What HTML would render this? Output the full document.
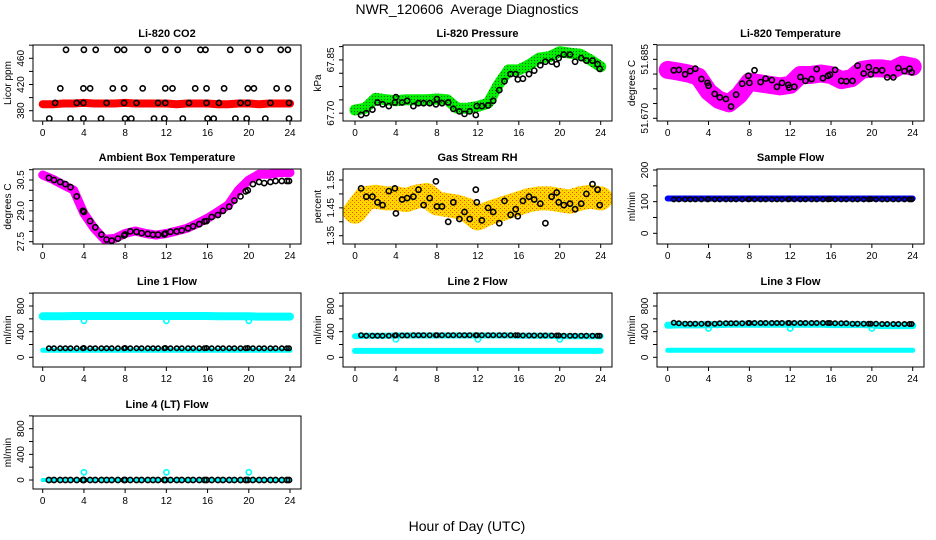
<!DOCTYPE html>
<html><head><meta charset="utf-8"><style>
body{margin:0;background:#fff;}
svg{display:block;font-family:"Liberation Sans",Arial,sans-serif;}
</style></head><body>
<svg id="chart" width="936" height="540" viewBox="0 0 936 540" xmlns="http://www.w3.org/2000/svg">
<defs>
<pattern id="rhpat" width="4" height="4" patternUnits="userSpaceOnUse"><rect width="4" height="4" fill="#ffd700"/><rect width="1" height="1" fill="#ff4000"/><rect x="2" y="2" width="1" height="1" fill="#ff6a00"/></pattern>
<pattern id="prpat" width="3" height="3" patternUnits="userSpaceOnUse"><rect width="3" height="3" fill="#00ee00"/><rect width="1" height="1" fill="#006000"/></pattern>
</defs>
<text x="467" y="14" font-size="14" text-anchor="middle">NWR_120606&#160; Average Diagnostics</text>
<text x="467" y="531" font-size="14" text-anchor="middle">Hour of Day (UTC)</text>
</svg>
<script>
// ---------- data ----------
const xTicks = [0,4,8,12,16,20,24];
const hours = [0,1,2,3,4,5,6,7,8,9,10,11,12,13,14,15,16,17,18,19,20,21,22,23,24];
const blackT = [0.6,1.1,1.7,2.2,2.7,3.3,3.9,4.0,4.6,5.1,5.7,6.2,6.7,7.3,7.9,8.0,8.5,9.1,9.6,10.2,10.7,11.2,11.8,11.9,12.4,13.0,13.5,14.1,14.6,15.2,15.7,15.9,16.4,17.0,17.5,18.1,18.6,19.2,19.7,19.9,20.4,21.0,21.5,22.1,22.6,23.2,23.7,23.9];

const co2Band = [390,390,391,391,392,391,391,391,392,391,391,391,391,390,391,391,391,390,390,391,391,390,391,391,391];
const co2T = [2.26,4.0,5.14,7.25,7.9,10.2,11.9,13.1,15.3,15.8,18.2,19.9,21.1,23.1,23.8,
 1.71,3.95,4.6,6.8,7.9,9.7,11.9,12.6,14.8,15.9,17.6,19.9,20.5,22.7,23.8,
 0.64,2.7,3.95,5.66,8.0,8.6,10.8,11.8,13.6,16.0,16.6,18.7,19.8,21.6,23.9,
 1.2,3.3,3.95,6.2,7.9,9.1,11.2,11.9,14.2,15.9,17.1,19.2,19.9,22.1,23.9];
const co2V = [473,473,473,473,473,473,473,473,473,473,473,473,473,473,473,
 414,414,414,414,414,414,414,414,414,414,414,414,414,414,414,
 368,368,368,368,368,368,368,368,368,368,368,368,368,368,368,
 392,392,392,392,392,392,392,392,392,392,392,392,392,392,392];

const presBand = [67.709,67.714,67.742,67.738,67.735,67.738,67.738,67.738,67.740,67.738,67.714,67.714,67.719,67.728,67.780,67.822,67.822,67.836,67.855,67.859,67.873,67.869,67.866,67.850,67.831];
const presBlack = [67.695,67.700,67.710,67.730,67.725,67.720,67.730,67.745,67.730,67.735,67.720,67.728,67.728,67.728,67.725,67.740,67.728,67.730,67.712,67.705,67.698,67.705,67.695,67.720,67.720,67.722,67.735,67.765,67.790,67.810,67.810,67.795,67.797,67.810,67.820,67.835,67.845,67.845,67.838,67.855,67.865,67.865,67.845,67.855,67.848,67.848,67.838,67.825];

const tempBand = [51.6823,51.6819,51.6814,51.6806,51.6768,51.6747,51.6738,51.6759,51.6793,51.6789,51.6785,51.6781,51.6785,51.6810,51.6810,51.6814,51.6810,51.6797,51.6802,51.6823,51.6827,51.6827,51.6823,51.6836,51.6831];
const tempBlack = [51.6822,51.6823,51.6812,51.6820,51.6826,51.6800,51.6790,51.6783,51.6762,51.6753,51.6749,51.6730,51.6760,51.6788,51.6808,51.6790,51.6822,51.6792,51.6801,51.6797,51.6780,51.6790,51.6785,51.6778,51.6780,51.6805,51.6795,51.6800,51.6825,51.6802,51.6808,51.6811,51.6823,51.6795,51.6794,51.6795,51.6834,51.6814,51.6830,51.6812,51.6822,51.6822,51.6804,51.6804,51.6828,51.6820,51.6826,51.6817];

const ambBand = [30.74,30.53,30.26,30.01,28.88,28.15,27.61,27.66,27.90,28.02,27.90,27.82,27.90,28.02,28.15,28.39,28.64,28.96,29.28,30.01,30.50,30.78,30.78,30.86,30.86];
const ambBlack = [30.6,30.5,30.4,30.3,30.15,29.7,29.0,28.95,28.5,28.2,27.85,27.6,27.55,27.65,27.8,27.85,28.0,27.98,27.92,27.88,27.84,27.84,27.86,27.9,27.98,28.0,28.05,28.15,28.25,28.35,28.48,28.5,28.7,28.8,29.0,29.2,29.5,29.7,29.95,30.0,30.3,30.4,30.35,30.4,30.45,30.45,30.45,30.45];

const rhBand = [1.436,1.484,1.490,1.484,1.484,1.478,1.490,1.496,1.466,1.460,1.454,1.442,1.412,1.430,1.442,1.454,1.466,1.478,1.484,1.484,1.478,1.472,1.484,1.490,1.484];
const rhBlack = [1.52,1.49,1.49,1.47,1.46,1.51,1.52,1.43,1.48,1.485,1.49,1.515,1.46,1.485,1.545,1.455,1.455,1.40,1.47,1.41,1.435,1.41,1.515,1.47,1.405,1.45,1.435,1.395,1.475,1.425,1.445,1.42,1.475,1.49,1.48,1.465,1.395,1.49,1.505,1.47,1.46,1.465,1.445,1.465,1.50,1.535,1.515,1.46];

const sfBand = [110,110,110,110,110,110,110,110,110,110,110,110,110,110,110,110,110,110,110,110,110,110,110,110,110];
const sfBlack = [107,107,107,107,107,107,107,108,107,107,107,107,107,107,107,108,107,107,107,107,107,107,107,108,107,107,107,107,107,107,107,108,107,107,107,107,107,107,107,108,107,107,107,107,107,107,107,107];

const l1High = [640,640,640,645,645,645,645,645,645,645,645,645,645,645,645,645,645,640,640,640,640,635,635,635,635];
const l1Low = [110,110,110,110,110,110,110,110,110,110,110,110,110,110,110,110,110,110,110,110,110,110,110,110,110];
const l1Black = [140,140,140,140,140,140,140,145,140,140,140,140,140,140,140,145,140,140,140,140,140,140,140,145,140,140,140,140,140,140,140,145,140,140,140,140,140,140,140,145,140,140,140,140,140,140,140,140];
const dipT = [4,12,20];
const l1Dip = [570,570,570];

const l2High = [330,335,335,335,340,340,340,340,340,340,340,340,340,340,340,340,335,335,335,335,330,330,330,330,330];
const l2Low = [100,100,100,100,100,100,100,100,100,100,100,100,100,100,100,100,100,100,100,100,100,100,100,100,100];
const l2Black = [345,335,335,335,335,335,340,345,340,340,345,345,345,345,345,345,345,345,345,345,345,345,345,345,345,345,345,345,345,345,345,345,340,340,340,340,340,340,340,340,335,335,335,335,335,335,335,335];
const l2Dip = [280,280,280];

const l3High = [500,505,505,505,510,510,515,515,515,515,515,515,515,515,515,515,510,510,510,510,505,495,495,495,495];
const l3Low = [110,110,110,110,110,110,110,110,110,110,110,110,110,110,110,110,110,110,110,110,110,110,110,110,110];
const l3Black = [540,530,525,525,525,525,525,525,525,530,530,530,530,530,535,535,535,535,535,535,535,535,535,535,535,535,535,535,535,535,535,535,530,530,530,525,525,525,525,525,525,520,520,520,520,520,520,520];
const l3Dip = [450,450,450];

const l4Cyan = [0,0,0,0,0,0,0,0,0,0,0,0,0,0,0,0,0,0,0,0,0,0,0,0,0];
const l4Black = [0,0,0,0,0,0,0,0,0,0,0,0,0,0,0,0,0,0,0,0,0,0,0,0,0,0,0,0,0,0,0,0,0,0,0,0,0,0,0,0,0,0,0,0,0,0,0,0];
const l4Spike = [120,120,120];

// ---------- layout ----------
const NS = "http://www.w3.org/2000/svg";
const svg = document.getElementById('chart');
const cols = [{bx0:33,bx1:301,x0:42.7,x24:290},{bx0:343,bx1:612,x0:355,x24:600.7},{bx0:657,bx1:924,x0:667.7,x24:912.7}];
const rows = [{by0:45,by1:121},{by0:169,by1:244},{by0:293,by1:367},{by0:416,by1:489}];
function mk(tag, attrs, parent){const e=document.createElementNS(NS,tag);for(const k in attrs)e.setAttribute(k,attrs[k]);(parent||svg).appendChild(e);return e;}

function panel(cfg){
  const c=cols[cfg.col], r=rows[cfg.row];
  const g=mk('g',{});
  
  
  const xs=h=>c.x0+(c.x24-c.x0)*h/24;
  const ys=v=>r.by0+(cfg.yTop-v)/(cfg.yTop-cfg.yBot)*(r.by1-r.by0);
  const clipId='clip'+cfg.col+cfg.row;
  const cp=mk('clipPath',{id:clipId},g); mk('rect',{x:c.bx0,y:r.by0,width:c.bx1-c.bx0,height:r.by1-r.by0},cp);
  const plot=mk('g',{'clip-path':'url(#'+clipId+')'},g);
  
  
  const t=mk('text',{x:(c.bx0+c.bx1)/2,y:r.by0-8,'font-size':11,'font-weight':'bold','text-anchor':'middle'},g);
  t.textContent=cfg.title;
  
  
  const yt=mk('text',{x:0,y:0,'font-size':10,'text-anchor':'middle',transform:'translate('+(c.bx0-22)+','+((r.by0+r.by1)/2)+') rotate(-90)'},g);
  yt.textContent=cfg.ylab;
  
  
  cfg.yticks.forEach(v=>{const y=ys(v);const tk=mk('line',{x1:c.bx0-4,x2:c.bx0,y1:y,y2:y,stroke:'#000','stroke-width':1},g);
    
    });
  cfg.ylabels.forEach((lab,i)=>{const y=ys(cfg.ylabelVals[i]);
    const tl=mk('text',{x:0,y:0,'font-size':10,'text-anchor':'middle',transform:'translate('+(c.bx0-9)+','+y+') rotate(-90)'},g);
    tl.textContent=lab;
    
    });
  xTicks.forEach(h=>{const x=xs(h);const tk=mk('line',{x1:x,x2:x,y1:r.by1,y2:r.by1+4,stroke:'#000','stroke-width':1},g);
    
    
    const tl=mk('text',{x:x,y:r.by1+15,'font-size':10,'text-anchor':'middle'},g);tl.textContent=String(h);
    
    });
  cfg.series.forEach(s=>{
    if(s.type==='band'){
      let d='';s.t.forEach((h,i)=>{d+=(i?'L':'M')+xs(h).toFixed(1)+','+ys(s.v[i]).toFixed(1);});
      const p=mk('path',{d:d,fill:'none',stroke:s.color,'stroke-width':s.w,'stroke-linejoin':'round','stroke-linecap':'round'},plot);
      
      
    } else {
      s.t.forEach((h,i)=>{const ci=mk('circle',{cx:xs(h).toFixed(1),cy:ys(s.v[i]).toFixed(1),r:s.r||2.6,fill:'none',stroke:s.color,'stroke-width':s.sw||1.6},plot);
        
        });
    }
  });
  const box=mk('rect',{x:c.bx0,y:r.by0,width:c.bx1-c.bx0,height:r.by1-r.by0,fill:'none',stroke:'#000','stroke-width':1},g);
  
  
}
function seq(a,b,s){const o=[];for(let v=a;v<=b+1e-9;v+=s)o.push(+v.toFixed(6));return o;}

panel({name:'co2-panel',col:0,row:0,title:'Li-820 CO2',ylab:'Licor ppm',yTop:480.3,yBot:364.3,yticks:seq(380,480,20),ylabels:['380','420','460'],ylabelVals:[380,420,460],
  series:[{type:'band',name:'co2-band',t:hours,v:co2Band,color:'#ff0000',w:8},{type:'pts',name:'co2-point',t:co2T,v:co2V,color:'#000'}]});
panel({name:'pressure-panel',col:1,row:0,title:'Li-820 Pressure',ylab:'kPa',yTop:67.892,yBot:67.678,yticks:seq(67.70,67.89,0.0375),ylabels:['67.70','67.85'],ylabelVals:[67.70,67.85],
  series:[{type:'band',name:'pressure-band',t:hours,v:presBand,color:'url(#prpat)',w:11},{type:'pts',name:'pressure-point',t:blackT,v:presBlack,color:'#000'}]});
panel({name:'temperature-panel',col:2,row:0,title:'Li-820 Temperature',ylab:'degrees C',yTop:51.68864,yBot:51.66931,yticks:seq(51.670,51.6889,0.00375),ylabels:['51.670','51.685'],ylabelVals:[51.670,51.685],
  series:[{type:'band',name:'temperature-band',t:hours,v:tempBand,color:'#ff00ff',w:18},{type:'pts',name:'temperature-point',t:blackT,v:tempBlack,color:'#000'}]});
panel({name:'ambient-panel',col:0,row:1,title:'Ambient Box Temperature',ylab:'degrees C',yTop:31.034,yBot:27.388,yticks:seq(27.5,31.0,0.5),ylabels:['27.5','29.0','30.5'],ylabelVals:[27.5,29.0,30.5],
  series:[{type:'band',name:'ambient-band',t:hours,v:ambBand,color:'#ff00ff',w:9},{type:'pts',name:'ambient-point',t:blackT,v:ambBlack,color:'#000'}]});
panel({name:'rh-panel',col:1,row:1,title:'Gas Stream RH',ylab:'percent',yTop:1.5895,yBot:1.3202,yticks:seq(1.35,1.55,0.05),ylabels:['1.35','1.45','1.55'],ylabelVals:[1.35,1.45,1.55],
  series:[{type:'band',name:'rh-band',t:hours,v:rhBand,color:'url(#rhpat)',w:24},{type:'pts',name:'rh-point',t:blackT,v:rhBlack,color:'#000'}]});
panel({name:'sample-flow-panel',col:2,row:1,title:'Sample Flow',ylab:'ml/min',yTop:203.2,yBot:-33.8,yticks:seq(0,200,50),ylabels:['0','100','200'],ylabelVals:[0,100,200],
  series:[{type:'band',name:'sample-flow-band',t:hours,v:sfBand,color:'#0000ff',w:6},{type:'pts',name:'sample-flow-point',t:blackT,v:sfBlack,color:'#000',r:2.2}]});
const flowTicks=seq(0,1000,200);
panel({name:'line1-panel',col:0,row:2,title:'Line 1 Flow',ylab:'ml/min',yTop:1003,yBot:-151,yticks:flowTicks,ylabels:['0','400','800'],ylabelVals:[0,400,800],
  series:[{type:'band',name:'line1-high-band',t:hours,v:l1High,color:'#00ffff',w:8},{type:'band',name:'line1-low-band',t:hours,v:l1Low,color:'#00ffff',w:5},{type:'pts',name:'line1-dip',t:dipT,v:l1Dip,color:'#00ffff'},{type:'pts',name:'line1-point',t:blackT,v:l1Black,color:'#000',r:2.2}]});
panel({name:'line2-panel',col:1,row:2,title:'Line 2 Flow',ylab:'ml/min',yTop:1003,yBot:-151,yticks:flowTicks,ylabels:['0','400','800'],ylabelVals:[0,400,800],
  series:[{type:'band',name:'line2-high-band',t:hours,v:l2High,color:'#00ffff',w:6},{type:'band',name:'line2-low-band',t:hours,v:l2Low,color:'#00ffff',w:6},{type:'pts',name:'line2-dip',t:dipT,v:l2Dip,color:'#00ffff'},{type:'pts',name:'line2-point',t:blackT,v:l2Black,color:'#000',r:2.2}]});
panel({name:'line3-panel',col:2,row:2,title:'Line 3 Flow',ylab:'ml/min',yTop:1003,yBot:-151,yticks:flowTicks,ylabels:['0','400','800'],ylabelVals:[0,400,800],
  series:[{type:'band',name:'line3-high-band',t:hours,v:l3High,color:'#00ffff',w:7},{type:'band',name:'line3-low-band',t:hours,v:l3Low,color:'#00ffff',w:5},{type:'pts',name:'line3-dip',t:dipT,v:l3Dip,color:'#00ffff'},{type:'pts',name:'line3-point',t:blackT,v:l3Black,color:'#000',r:2.2}]});
panel({name:'line4-panel',col:0,row:3,title:'Line 4 (LT) Flow',ylab:'ml/min',yTop:998,yBot:-140,yticks:flowTicks,ylabels:['0','400','800'],ylabelVals:[0,400,800],
  series:[{type:'band',name:'line4-band',t:hours,v:l4Cyan,color:'#00ffff',w:4},{type:'pts',name:'line4-spike',t:dipT,v:l4Spike,color:'#00ffff'},{type:'pts',name:'line4-point',t:blackT,v:l4Black,color:'#000'}]});
</script>
</body></html>
